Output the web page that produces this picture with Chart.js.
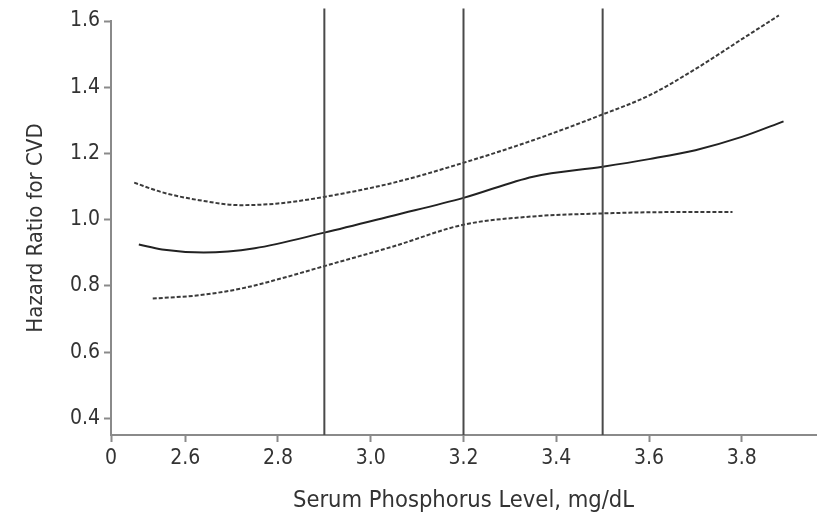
<!DOCTYPE html>
<html>
<head>
<meta charset="utf-8">
<script src="https://cdn.jsdelivr.net/npm/chart.js@4/dist/chart.umd.min.js"></script>
<style>
    html, body { margin: 0; padding: 0; background: #fff; }
    #wrap { width: 825px; height: 515px; }
</style>
</head>
<body>
<div id="wrap"><canvas id="chartHR"></canvas></div>
<script>
// phosphorus level (mg/dL) vs hazard ratio, spline fit with 95% band
const hrX    = [2.50, 2.55, 2.64, 2.75, 2.90, 3.05, 3.20, 3.35, 3.50, 3.60, 3.70, 3.80, 3.89];
const hrY    = [0.925, 0.910, 0.901, 0.914, 0.961, 1.013, 1.066, 1.130, 1.160, 1.183, 1.210, 1.250, 1.297];

const upperX = [2.49, 2.55, 2.63, 2.72, 2.80, 2.90, 3.05, 3.20, 3.35, 3.50, 3.60, 3.70, 3.80, 3.88];
const upperY = [1.112, 1.083, 1.059, 1.044, 1.049, 1.069, 1.112, 1.172, 1.240, 1.318, 1.375, 1.455, 1.545, 1.617];

const lowerX = [2.53, 2.63, 2.72, 2.80, 2.90, 3.05, 3.20, 3.35, 3.50, 3.65, 3.78];
const lowerY = [0.762, 0.772, 0.792, 0.820, 0.860, 0.920, 0.985, 1.010, 1.019, 1.023, 1.023];

// cut points drawn as vertical rules
const cutPoints = [2.9, 3.2, 3.5];

// x axis is broken: the first tick stands for 0
const xTicks      = [2.44, 2.6, 2.8, 3.0, 3.2, 3.4, 3.6, 3.8];
const xTickLabels = ['0', '2.6', '2.8', '3.0', '3.2', '3.4', '3.6', '3.8'];
const yTicks      = [0.4, 0.6, 0.8, 1.0, 1.2, 1.4, 1.6];

const X_MIN = 2.44, X_MAX = 3.96;
const Y_MIN = 0.35, Y_MAX = 1.6;

const FONT = "'DejaVu Sans Condensed', 'Liberation Sans', sans-serif";
const AXIS_GRAY = '#8a8a8a';
const TEXT = '#333';

function pts(xs, ys) {
    return xs.map((x, i) => ({ x: x, y: ys[i] }));
}

const cutSets = cutPoints.map(c => ({
    data: [{ x: c, y: Y_MIN }, { x: c, y: 1.638 }],
    borderColor: '#4a4a4a',
    borderWidth: 2,
    pointRadius: 0,
    showLine: true,
    clip: false
}));

const curve = (xs, ys, dashed) => ({
    data: pts(xs, ys),
    borderColor: dashed ? '#3a3a3a' : '#222',
    borderWidth: 2,
    borderDash: dashed ? [4, 2] : [],
    pointRadius: 0,
    showLine: true,
    tension: 0.4,
    cubicInterpolationMode: 'monotone',
    clip: false
});

new Chart(document.getElementById('chartHR'), {
    type: 'scatter',
    data: {
        datasets: [
            ...cutSets,
            curve(upperX, upperY, true),
            curve(hrX, hrY, false),
            curve(lowerX, lowerY, true)
        ]
    },
    options: {
        responsive: true,
        maintainAspectRatio: false,
        animation: false,
        layout: { padding: { top: 21, right: 9, left: 0, bottom: 0 } },
        plugins: {
            legend: { display: false },
            tooltip: { enabled: false }
        },
        scales: {
            x: {
                type: 'linear',
                min: X_MIN,
                max: X_MAX,
                afterBuildTicks: s => { s.ticks = xTicks.map(v => ({ value: v })); },
                afterFit: s => { s.height = 80; },
                ticks: {
                    color: TEXT,
                    font: { family: FONT, size: 21 },
                    padding: 4,
                    maxRotation: 0,
                    autoSkip: false,
                    callback: (v, i) => xTickLabels[i]
                },
                grid: {
                    drawOnChartArea: false,
                    drawTicks: true,
                    tickLength: 7,
                    tickColor: AXIS_GRAY,
                    tickWidth: 2
                },
                border: { color: AXIS_GRAY, width: 2 },
                title: {
                    display: true,
                    text: 'Serum Phosphorus Level, mg/dL',
                    color: TEXT,
                    font: { family: FONT, size: 23.5 },
                    padding: { top: 0, bottom: 0 }
                }
            },
            y: {
                type: 'linear',
                min: Y_MIN,
                max: Y_MAX,
                afterBuildTicks: s => { s.ticks = yTicks.map(v => ({ value: v })); },
                afterFit: s => { s.width = 111; },
                ticks: {
                    color: TEXT,
                    font: { family: FONT, size: 21 },
                    padding: 4,
                    callback: v => v.toFixed(1)
                },
                grid: {
                    drawOnChartArea: false,
                    drawTicks: true,
                    tickLength: 7,
                    tickColor: AXIS_GRAY,
                    tickWidth: 2
                },
                border: { color: AXIS_GRAY, width: 2 },
                title: {
                    display: true,
                    text: 'Hazard Ratio for CVD',
                    color: TEXT,
                    font: { family: FONT, size: 22 },
                    padding: { top: 23, bottom: 0 }
                }
            }
        }
    }
});
</script>
</body>
</html>
